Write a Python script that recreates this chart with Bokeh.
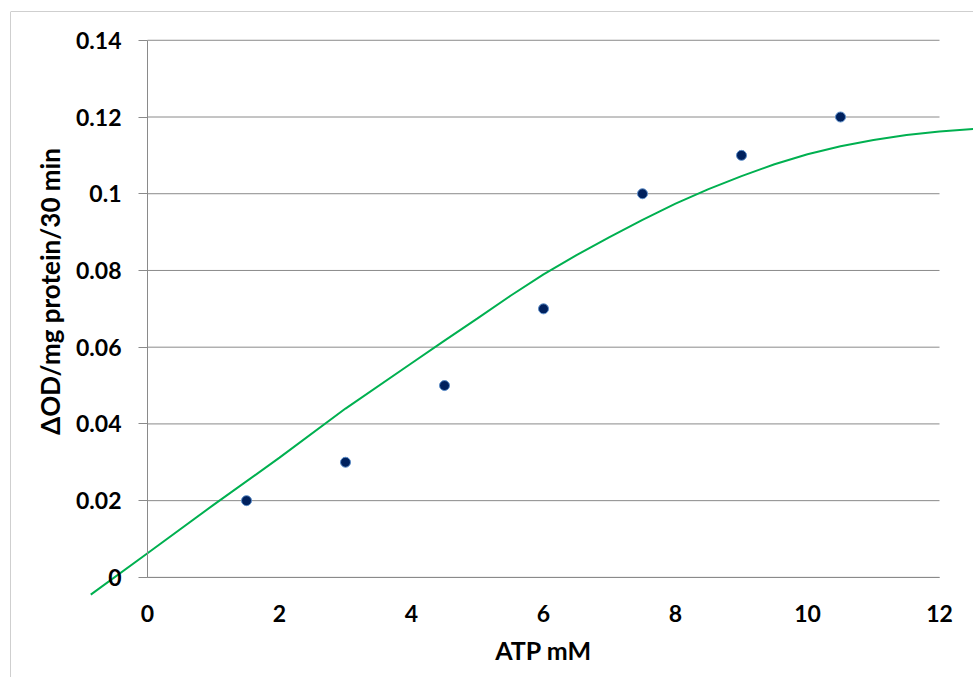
import math
from bokeh.plotting import figure
from bokeh.models import Range1d, FixedTicker, Span, Label
from bokeh.embed import file_html
from bokeh.resources import INLINE

# measured data points
atp_mM = [1.5, 3.0, 4.5, 6.0, 7.5, 9.0, 10.5]
delta_od = [0.02, 0.03, 0.05, 0.07, 0.10, 0.11, 0.12]

# trendline
trend_x = [-0.86, 0, 1, 2, 3, 4, 4.5, 5, 5.5, 6, 6.5, 7, 7.5, 8, 8.5, 9,
           9.5, 10, 10.5, 11, 11.5, 12, 12.52]
trend_y = [-0.0045, 0.0063, 0.0189, 0.0312, 0.0440, 0.0558, 0.0617, 0.0675,
           0.0734, 0.0790, 0.0840, 0.0887, 0.0932, 0.0974, 0.1012, 0.1046,
           0.1077, 0.1103, 0.1124, 0.1140, 0.1153, 0.1162, 0.1169]

x_ticks = [0, 2, 4, 6, 8, 10, 12]
x_tick_labels = ["0", "2", "4", "6", "8", "10", "12"]
y_ticks = [0, 0.02, 0.04, 0.06, 0.08, 0.10, 0.12, 0.14]
y_tick_labels = ["0", "0.02", "0.04", "0.06", "0.08", "0.1", "0.12", "0.14"]

x_title = "ATP mM"
y_title = "ΔOD/mg protein/30 min"

FONT = "Lato"
GRID = "#8a8a8a"

p = figure(width=973, height=677, output_backend="svg", toolbar_location=None,
           title=None,
           x_range=Range1d(-2.076, 12.515), y_range=Range1d(-0.0261, 0.1475),
           min_border_left=10, min_border_top=11, min_border_right=0, min_border_bottom=0)
p.outline_line_color = None
p.background_fill_color = "white"
p.border_fill_color = "white"
p.xgrid.visible = False
p.ygrid.visible = False

# chart border (left and top visible)
p.add_layout(Span(location=p.x_range.start, dimension="height", line_color="#a0a0a0", line_width=1))
p.add_layout(Span(location=p.y_range.end, dimension="width", line_color="#a0a0a0", line_width=1))

# horizontal gridlines
p.segment(x0=[x_ticks[0]] * len(y_ticks), x1=[x_ticks[-1]] * len(y_ticks),
          y0=y_ticks, y1=y_ticks, line_color=GRID, line_width=1)

# axes at the data origin
xa = p.xaxis[0]
xa.fixed_location = 0
xa.bounds = (x_ticks[0], x_ticks[-1])
xa.ticker = FixedTicker(ticks=x_ticks)
xa.major_label_overrides = {t: l for t, l in zip(x_ticks, x_tick_labels)}
xa.major_tick_out = 0
xa.major_tick_in = 0
xa.minor_tick_out = 0
xa.minor_tick_in = 0
xa.axis_line_color = GRID
xa.major_label_standoff = 28
xa.major_label_text_font = FONT
xa.major_label_text_font_style = "bold"
xa.major_label_text_font_size = "23px"
xa.major_label_text_color = "black"
xa.axis_label = x_title
xa.axis_label_text_font = FONT
xa.axis_label_text_font_style = "bold"
xa.axis_label_text_font_size = "25px"
xa.axis_label_text_color = "black"
xa.axis_label_standoff = 9

ya = p.yaxis[0]
ya.fixed_location = 0
ya.bounds = (y_ticks[0], y_ticks[-1])
ya.ticker = FixedTicker(ticks=y_ticks)
ya.major_label_overrides = {t: l for t, l in zip(y_ticks, y_tick_labels)}
ya.major_tick_out = 9
ya.major_tick_in = 0
ya.minor_tick_out = 0
ya.minor_tick_in = 0
ya.major_tick_line_color = GRID
ya.axis_line_color = GRID
ya.major_label_standoff = 17
ya.major_label_text_font = FONT
ya.major_label_text_font_style = "bold"
ya.major_label_text_font_size = "23px"
ya.major_label_text_color = "black"

# y axis title (placed like the original, slightly above the axis centre)
p.add_layout(Label(x=-1.485, y=0.0745, text=y_title, angle=math.pi / 2,
                   text_align="center", text_baseline="middle",
                   text_font=FONT, text_font_style="bold", text_font_size="26px",
                   text_color="black"))

# trendline
p.line(trend_x, trend_y, line_color="#00b050", line_width=2)

# data points
p.scatter(atp_mM, delta_od, size=10, marker="circle",
          fill_color="#00215e", line_color="#5b8dc9", line_width=1)

open("out.html", "w").write(file_html(p, INLINE))
